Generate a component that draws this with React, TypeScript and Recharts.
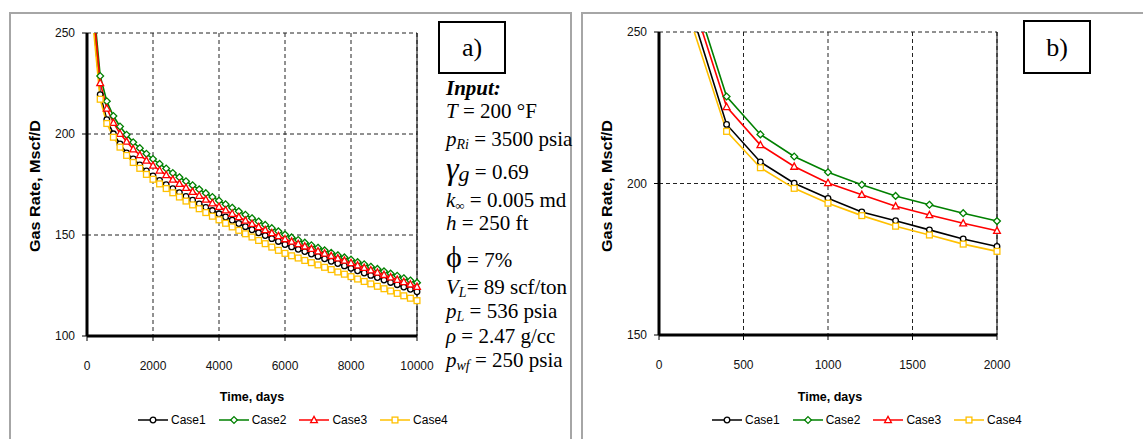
import React from 'react'
import { LineChart, Line, XAxis, YAxis, CartesianGrid, ReferenceLine } from 'recharts'

// time steps, days (markers every 200 days)
const days = [
  200, 400, 600, 800, 1000, 1200, 1400, 1600, 1800, 2000,
  2200, 2400, 2600, 2800, 3000, 3200, 3400, 3600, 3800, 4000,
  4200, 4400, 4600, 4800, 5000, 5200, 5400, 5600, 5800, 6000,
  6200, 6400, 6600, 6800, 7000, 7200, 7400, 7600, 7800, 8000,
  8200, 8400, 8600, 8800, 9000, 9200, 9400, 9600, 9800, 10000,
]

// gas rate, Mscf/D
const case1Rate = [
  255.3, 219.5, 207.1, 200.1, 195.1, 190.6, 187.7, 184.7, 181.7, 179.2,
  177.0, 174.9, 172.9, 171.0, 169.1, 167.2, 165.4, 163.7, 162.1, 160.5,
  158.9, 157.3, 155.7, 154.1, 152.6, 151.1, 149.7, 148.2, 146.8, 145.3,
  144.1, 142.9, 141.8, 140.6, 139.4, 138.2, 137.0, 135.9, 134.7, 133.5,
  132.3, 131.2, 130.0, 128.9, 127.7, 126.5, 125.4, 124.2, 123.1, 121.9,
]
const case2Rate = [
  263.6, 228.7, 216.2, 208.9, 203.7, 199.6, 195.9, 193.0, 190.2, 187.6,
  185.2, 182.9, 180.7, 178.6, 176.6, 174.6, 172.6, 170.7, 168.8, 167.0,
  165.2, 163.5, 161.7, 160.0, 158.3, 156.7, 155.0, 153.4, 151.8, 150.2,
  148.8, 147.5, 146.2, 144.9, 143.7, 142.4, 141.2, 140.0, 138.9, 137.8,
  136.6, 135.5, 134.3, 133.2, 132.0, 130.9, 129.8, 128.6, 127.5, 126.4,
]
const case3Rate = [
  260.0, 225.3, 212.7, 205.6, 200.2, 196.3, 192.5, 189.6, 186.9, 184.4,
  182.0, 179.7, 177.5, 175.4, 173.4, 171.4, 169.5, 167.6, 165.8, 164.0,
  162.3, 160.6, 158.9, 157.2, 155.6, 154.0, 152.5, 151.0, 149.5, 148.0,
  146.8, 145.6, 144.4, 143.2, 142.0, 140.9, 139.7, 138.5, 137.4, 136.2,
  135.0, 133.8, 132.6, 131.5, 130.3, 129.1, 127.9, 126.8, 125.6, 124.4,
]
const case4Rate = [
  251.5, 217.2, 205.2, 198.4, 193.5, 189.4, 185.9, 183.0, 180.0, 177.6,
  175.3, 173.0, 170.9, 168.8, 166.8, 164.9, 163.0, 161.1, 159.3, 157.5,
  155.8, 154.0, 152.3, 150.6, 149.0, 147.3, 145.7, 144.0, 142.4, 140.9,
  139.7, 138.6, 137.4, 136.3, 135.2, 134.0, 132.9, 131.7, 130.6, 129.4,
  128.2, 127.0, 125.8, 124.6, 123.4, 122.3, 121.1, 119.9, 118.7, 117.5,
]

const seriesNames = ['Case1', 'Case2', 'Case3', 'Case4']

const fullTicksX = [0, 2000, 4000, 6000, 8000, 10000]
const fullTicksY = [100, 150, 200, 250]
const zoomTicksX = [0, 500, 1000, 1500, 2000]
const zoomTicksY = [150, 200, 250]
const zoomEndDay = 2000

const SANS = '"Liberation Sans", Arial, sans-serif'
const SERIF = '"Liberation Serif", "Times New Roman", serif'

const seriesStyle = [
  { key: 'case1', color: '#000000', shape: 'circle' },
  { key: 'case2', color: '#008000', shape: 'diamond' },
  { key: 'case3', color: '#ff0000', shape: 'triangle' },
  { key: 'case4', color: '#ffc000', shape: 'square' },
]

const fullData = days.map((d, i) => ({
  day: d,
  case1: case1Rate[i],
  case2: case2Rate[i],
  case3: case3Rate[i],
  case4: case4Rate[i],
}))
const zoomData = fullData.filter(p => p.day <= zoomEndDay)

function Marker({ shape, color, cx, cy }: { shape: string; color: string; cx: number; cy: number }) {
  const common = { fill: '#fff', stroke: color, strokeWidth: 1.3 }
  if (shape === 'circle') return <circle cx={cx} cy={cy} r={2.8} {...common} />
  if (shape === 'diamond')
    return <polygon points={`${cx},${cy - 3.4} ${cx + 3.4},${cy} ${cx},${cy + 3.4} ${cx - 3.4},${cy}`} {...common} />
  if (shape === 'triangle')
    return <polygon points={`${cx},${cy - 3.6} ${cx + 3.4},${cy + 2.7} ${cx - 3.4},${cy + 2.7}`} {...common} />
  return <rect x={cx - 2.9} y={cy - 2.9} width={5.8} height={5.8} {...common} />
}

const makeDot = (shape: string, color: string, yMax: number) => (props: any) => {
  const { cx, cy, value, index } = props
  if (cx == null || cy == null || value > yMax) return <g key={`d-${index}`} />
  return <Marker key={`d-${index}`} shape={shape} color={color} cx={cx} cy={cy} />
}

interface PanelProps {
  data: any[]
  width: number
  xDomain: [number, number]
  xTicks: number[]
  yDomain: [number, number]
  yTicks: number[]
  margin: { top: number; right: number; bottom: number; left: number }
}

function Panel({ data, width, xDomain, xTicks, yDomain, yTicks, margin }: PanelProps) {
  const tickStyle = { fill: '#111', fontSize: 12, fontFamily: SANS }
  return (
    <LineChart width={width} height={439} data={data} margin={margin}>
      <CartesianGrid stroke="#222" strokeDasharray="4 3" strokeWidth={1} />
      <ReferenceLine x={xDomain[1]} stroke="#000" strokeWidth={1} />
      <XAxis
        dataKey="day"
        type="number"
        domain={xDomain}
        ticks={xTicks}
        height={30}
        axisLine={{ stroke: '#000', strokeWidth: 3 }}
        tickLine={{ stroke: '#000' }}
        tickSize={5}
        tickMargin={20}
        tick={tickStyle}
        interval={0}
      />
      <YAxis
        type="number"
        domain={yDomain}
        ticks={yTicks}
        allowDataOverflow
        width={60}
        axisLine={{ stroke: '#000', strokeWidth: 3 }}
        tickLine={{ stroke: '#000' }}
        tickSize={5}
        tickMargin={7}
        tick={tickStyle}
        interval={0}
      />
      {seriesStyle.map(s => (
        <Line
          key={s.key}
          type="linear"
          dataKey={s.key}
          stroke={s.color}
          strokeWidth={1.6}
          dot={makeDot(s.shape, s.color, yDomain[1])}
          activeDot={false}
          isAnimationActive={false}
        />
      ))}
    </LineChart>
  )
}

function LegendRow({ left }: { left: number }) {
  return (
    <div
      style={{
        position: 'absolute',
        left,
        top: 412,
        display: 'flex',
        alignItems: 'center',
        gap: 13,
        fontFamily: SANS,
        fontSize: 12,
        color: '#000',
        lineHeight: '16px',
      }}
    >
      {seriesStyle.map((s, i) => (
        <div key={s.key} style={{ display: 'flex', alignItems: 'center' }}>
          <svg width={30} height={10} style={{ display: 'block' }}>
            <line x1={0} y1={5} x2={30} y2={5} stroke={s.color} strokeWidth={1.5} />
            <Marker shape={s.shape} color={s.color} cx={15} cy={5} />
          </svg>
          <span style={{ marginLeft: 3 }}>{seriesNames[i]}</span>
        </div>
      ))}
    </div>
  )
}

export default function App() {
  const label = { fontFamily: SANS, fontSize: 12.5, fontWeight: 700, fill: '#000' }
  const serif = { fontFamily: SERIF, fontSize: 21, fill: '#000' }
  return (
    <div style={{ position: 'absolute', left: 0, top: 0, width: 1143, height: 439, background: '#fff', overflow: 'hidden' }}>
      {/* panel a */}
      <div style={{ position: 'absolute', left: 0, top: 0 }}>
        <Panel
          data={fullData}
          width={580}
          xDomain={[0, 10000]}
          xTicks={fullTicksX}
          yDomain={[100, 250]}
          yTicks={fullTicksY}
          margin={{ top: 33, right: 163, bottom: 73, left: 27 }}
        />
      </div>
      {/* panel b */}
      <div style={{ position: 'absolute', left: 580, top: 0 }}>
        <Panel
          data={zoomData}
          width={563}
          xDomain={[0, 2000]}
          xTicks={zoomTicksX}
          yDomain={[150, 250]}
          yTicks={zoomTicksY}
          margin={{ top: 32, right: 146, bottom: 74, left: 19 }}
        />
      </div>

      <svg width={1143} height={439} style={{ position: 'absolute', left: 0, top: 0, pointerEvents: 'none' }}>
        {/* frames */}
        <path d="M10 439 V13 H571 V439" fill="none" stroke="#a6a6a6" strokeWidth={2} />
        <path d="M582 439 V13 H1143" fill="none" stroke="#a6a6a6" strokeWidth={2} />

        {/* axis titles */}
        <text {...label} fontSize={14.5} textLength={132} lengthAdjust="spacingAndGlyphs" textAnchor="middle" transform="translate(40,186) rotate(-90)">Gas Rate, Mscf/D</text>
        <text {...label} x={252} y={401} textAnchor="middle">Time, days</text>
        <text {...label} fontSize={14.5} textLength={132} lengthAdjust="spacingAndGlyphs" textAnchor="middle" transform="translate(612,186) rotate(-90)">Gas Rate, Mscf/D</text>
        <text {...label} x={830} y={401} textAnchor="middle">Time, days</text>

        {/* panel tags */}
        <rect x={439} y={22} width={66} height={51} fill="#fff" stroke="#000" strokeWidth={2} />
        <text fontFamily={SERIF} fontSize={26} x={472} y={56} textAnchor="middle">a)</text>
        <rect x={1024} y={21} width={66} height={52} fill="#fff" stroke="#000" strokeWidth={2} />
        <text fontFamily={SERIF} fontSize={26} x={1057} y={56} textAnchor="middle">b)</text>

        {/* input parameters */}
        <text {...serif} x={446} y={95} fontWeight={700} fontStyle="italic">Input:</text>
        <text {...serif} x={446} y={118}>
          <tspan fontStyle="italic">T</tspan> = 200 °F
        </text>
        <text {...serif} x={446} y={146}>
          <tspan fontStyle="italic">p</tspan>
          <tspan fontStyle="italic" fontSize={14} dy={3}>Ri</tspan>
          <tspan dy={-3}> = 3500 psia</tspan>
        </text>
        <text {...serif} x={446} y={179}>
          <tspan fontStyle="italic" fontSize={32}>γ</tspan>
          <tspan fontStyle="italic" fontSize={22} dy={2}>g</tspan>
          <tspan dy={-2}>  = 0.69</tspan>
        </text>
        <text {...serif} x={446} y={207}>
          <tspan fontStyle="italic">k</tspan>
          <tspan fontSize={13} dy={3}>∞</tspan>
          <tspan dy={-3}> = 0.005 md</tspan>
        </text>
        <text {...serif} x={446} y={230}>
          <tspan fontStyle="italic">h</tspan> = 250 ft
        </text>
        <text {...serif} x={446} y={267}>
          <tspan fontSize={30}>ϕ</tspan> = 7%
        </text>
        <text {...serif} x={446} y={294}>
          <tspan fontStyle="italic">V</tspan>
          <tspan fontStyle="italic" fontSize={14} dy={3}>L</tspan>
          <tspan dy={-3}>= 89 scf/ton</tspan>
        </text>
        <text {...serif} x={446} y={318}>
          <tspan fontStyle="italic">p</tspan>
          <tspan fontStyle="italic" fontSize={14} dy={3}>L</tspan>
          <tspan dy={-3}> = 536 psia</tspan>
        </text>
        <text {...serif} x={446} y={343}>
          <tspan fontStyle="italic">ρ</tspan> = 2.47 g/cc
        </text>
        <text {...serif} x={446} y={367}>
          <tspan fontStyle="italic">p</tspan>
          <tspan fontStyle="italic" fontSize={14} dy={3}>wf</tspan>
          <tspan dy={-3}> = 250 psia</tspan>
        </text>
      </svg>

      <LegendRow left={138} />
      <LegendRow left={712} />
    </div>
  )
}
